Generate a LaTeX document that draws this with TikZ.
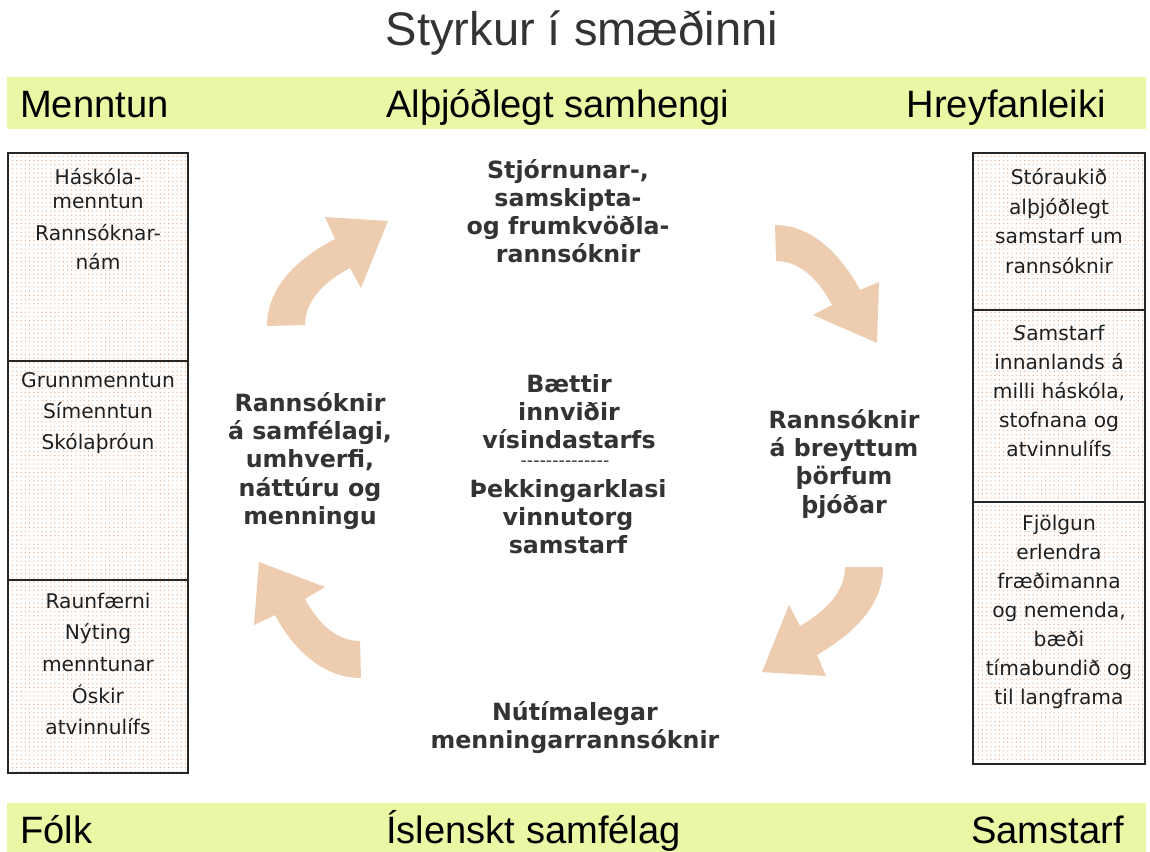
\documentclass[tikz,border=0pt]{standalone}
\usepackage{fontspec}
\setmainfont{DejaVu Sans}
\newfontfamily\arialfont{Liberation Sans}
\usetikzlibrary{patterns.meta}
\definecolor{BarGreen}{RGB}{236,247,166}
\definecolor{ArrowPeach}{RGB}{237,204,176}
\definecolor{DotPeach}{RGB}{236,178,135}
\definecolor{TextGray}{RGB}{51,51,51}
\tikzset{
  every node/.style={
    font=\fontsize{11.5}{16.5}\selectfont,
    text=black!88
  },
  title/.style={
    font=\arialfont\fontsize{26.8}{30}\selectfont,
    text=TextGray,
    anchor=base
  },
  band/.style={
    fill=BarGreen,
    draw=none
  },
  heading/.style={
    font=\arialfont\fontsize{21.7}{24}\selectfont,
    text=black,
    anchor=base #1
  },
  panel/.style={
    draw=black!85,
    line width=0.9pt,
    pattern={Dots[radius=0.4pt,distance=2.4pt]},
    pattern color=DotPeach
  },
  boxtext/.style={
    align=center,
    inner sep=0pt
  },
  research/.style={
    align=center,
    inner sep=0pt,
    font=\bfseries\fontsize{13.5}{16}\selectfont,
    text=TextGray
  },
  cyclearrow/.style={
    fill=ArrowPeach,
    draw=none
  }
}

\begin{document}
\begin{tikzpicture}[x=0.02cm,y=-0.02cm]

\useasboundingbox (0,0) rectangle (1150,852);

\node [title] (title) at (582,46) {Styrkur í smæðinni};

\path [band] (7,77) rectangle (1146,129);
\path [band] (7,803) rectangle (1146,852);
\node [heading=west] (educ) at (14,117) {Menntun};
\node [heading=west] (intl) at (380,117) {Alþjóðlegt samhengi};
\node [heading=east] (mobil) at (1112,117) {Hreyfanleiki};
\node [heading=west] (people) at (14,843) {Fólk};
\node [heading=west] (society) at (380,843) {Íslenskt samfélag};
\node [heading=east] (collab) at (1130,843) {Samstarf};

\path [panel] (8,153) rectangle (188,361);
\path [panel] (8,361) rectangle (188,580);
\path [panel] (8,580) rectangle (188,773);
\path [panel] (973,153) rectangle (1145,310);
\path [panel] (973,310) rectangle (1145,502);
\path [panel] (973,502) rectangle (1145,764);

\node [boxtext] (eduHigh) at (98,219) {Háskóla-\\[-2.6pt]menntun\\[1.8pt]Rannsóknar-\\nám};
\node [boxtext,font=\fontsize{11.5}{17.6}\selectfont] (eduBasic) at (98,413) {Grunnmenntun\\Símenntun\\Skólaþróun};
\node [boxtext,font=\fontsize{11.5}{18}\selectfont] (eduSkills) at (98,664) {Raunfærni\\Nýting\\menntunar\\Óskir\\atvinnulífs};
\node [boxtext,font=\fontsize{11.5}{17}\selectfont] (intlCoop) at (1059,221) {Stóraukið\\alþjóðlegt\\samstarf um\\rannsóknir};
\node [boxtext] (domCoop) at (1059,391) {\textit{S}amstarf\\innanlands á\\milli háskóla,\\stofnana og\\atvinnulífs};
\node [boxtext] (foreign) at (1059,612) {Fjölgun\\erlendra\\fræðimanna\\og nemenda,\\bæði\\tímabundið og\\til langframa};

\node [research] (topRes) at (568,211) {Stjórnunar-,\\samskipta-\\og frumkvöðla-\\rannsóknir};
\node [research] (leftRes) at (310,461) {Rannsóknir\\á samfélagi,\\umhverfi,\\náttúru og\\menningu};
\node [research] (rightRes) at (844,464) {Rannsóknir\\á breyttum\\þörfum\\þjóðar};
\node [research] (infra) at (569,412) {Bættir\\innviðir\\vísindastarfs};
\node [research,font=\mdseries\fontsize{10}{10}\selectfont] (sep) at (565,464)
  {-{}-{}-{}-{}-{}-{}-{}-{}-{}-{}-{}-{}-{}-};
\node [research] (cluster) at (568,517) {Þekkingarklasi\\vinnutorg\\samstarf};
\node [research] (bottomRes) at (575,728) {Nútímalegar\\menningarrannsóknir};

\fill [cyclearrow] (267,326) .. controls (267,286) and (299.5,257.4) .. (335,239)
  -- (325,217) -- (388,221) -- (361,288) -- (350,268)
  .. controls (327,280) and (305,299) .. (305,325) -- cycle;
\fill [cyclearrow] (775,225) .. controls (813,225) and (842,256.5) .. (860,290)
  -- (879,282) -- (877,343) -- (813,315) -- (832,305)
  .. controls (820,282.5) and (802,261) .. (776,261) -- cycle;
\fill [cyclearrow] (883,567) .. controls (883,607) and (851.5,634.8) .. (817,655)
  -- (826,676) -- (762,672) -- (789,605) -- (800,626)
  .. controls (823,612.5) and (845,593.7) .. (845,567) -- cycle;
\fill [cyclearrow] (361,678) .. controls (322.6,678) and (293,648.8) .. (275,615)
  -- (254,625) -- (259,562) -- (325,587) -- (305,599)
  .. controls (316.75,621) and (335,641) .. (360,641) -- cycle;

\end{tikzpicture}
\end{document}
